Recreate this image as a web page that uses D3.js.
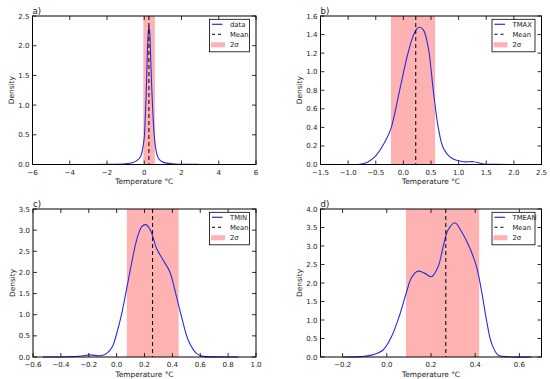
<!DOCTYPE html>
<html>
<head>
<meta charset="utf-8">
<script src="https://cdn.jsdelivr.net/npm/d3@7"></script>
<style>
  body { margin: 0; background: #fff; }
  svg { display: block; font-family: "DejaVu Sans", sans-serif; }
</style>
</head>
<body>
<svg id="chart" width="550" height="379"></svg>
<script>
// values
var panelLabels = ["a)", "b)", "c)", "d)"];
var seriesNames = ["data", "TMAX", "TMIN", "TMEAN"];

var aTemp    = [-5, -3, -2, -1, -0.6, -0.4, -0.2, -0.1, 0, 0.05, 0.1, 0.15, 0.2, 0.25, 0.3, 0.35, 0.4, 0.45, 0.5, 0.6, 0.7, 0.8, 1.0, 1.5, 2, 3, 5];
var aDensity = [0, 0.001, 0.003, 0.012, 0.035, 0.065, 0.13, 0.24, 0.45, 0.75, 1.15, 1.7, 2.15, 2.33, 2.2, 1.75, 1.3, 0.95, 0.65, 0.3, 0.15, 0.085, 0.04, 0.01, 0.004, 0.001, 0];

var bTemp    = [-1.45, -1.0, -0.79, -0.65, -0.514, -0.333, -0.224, -0.06, 0.09, 0.21, 0.284, 0.362, 0.453, 0.544, 0.634, 0.725, 0.877, 1.09, 1.27, 1.45, 1.7, 2.17];
var bDensity = [0, 0, 0.003, 0.025, 0.084, 0.246, 0.39, 0.82, 1.215, 1.43, 1.478, 1.45, 1.25, 0.785, 0.39, 0.175, 0.067, 0.03, 0.03, 0.005, 0.001, 0];

var cTemp    = [-0.528, -0.35, -0.25, -0.193, -0.12, -0.073, -0.03, 0.0, 0.035, 0.07, 0.107, 0.143, 0.179, 0.21, 0.243, 0.286, 0.334, 0.382, 0.43, 0.466, 0.514, 0.574, 0.621, 0.7, 0.873];
var cDensity = [0, 0.005, 0.025, 0.05, 0.03, 0.08, 0.25, 0.55, 1.0, 1.58, 2.21, 2.76, 3.08, 3.13, 3.0, 2.57, 2.29, 2.01, 1.42, 0.95, 0.395, 0.08, 0.015, 0.002, 0];

var dTemp    = [-0.198, -0.12, -0.069, -0.017, 0.021, 0.059, 0.089, 0.112, 0.142, 0.172, 0.202, 0.232, 0.255, 0.277, 0.308, 0.338, 0.376, 0.406, 0.428, 0.451, 0.474, 0.504, 0.55, 0.655];
var dDensity = [0, 0.01, 0.05, 0.19, 0.55, 1.15, 1.75, 2.15, 2.32, 2.26, 2.17, 2.44, 2.98, 3.43, 3.63, 3.39, 2.94, 2.44, 1.81, 1.0, 0.37, 0.05, 0.005, 0];

var means     = [0.25, 0.224, 0.258, 0.267];
var sigmaLow  = [-0.05, -0.224, 0.073, 0.087];
var sigmaHigh = [0.57, 0.574, 0.445, 0.418];

var xDomains = [[-6, 6], [-1.5, 2.5], [-0.6, 1.0], [-0.3, 0.7]];
var yDomains = [[0, 2.5], [0, 1.6], [0, 3.5], [0, 4.0]];
var xTicks = [
  [-6, -4, -2, 0, 2, 4, 6],
  [-1.5, -1.0, -0.5, 0.0, 0.5, 1.0, 1.5, 2.0, 2.5],
  [-0.6, -0.4, -0.2, 0.0, 0.2, 0.4, 0.6, 0.8, 1.0],
  [-0.2, 0.0, 0.2, 0.4, 0.6]
];
var yTicks = [
  [0, 0.5, 1.0, 1.5, 2.0, 2.5],
  [0, 0.2, 0.4, 0.6, 0.8, 1.0, 1.2, 1.4, 1.6],
  [0, 0.5, 1.0, 1.5, 2.0, 2.5, 3.0, 3.5],
  [0, 0.5, 1.0, 1.5, 2.0, 2.5, 3.0, 3.5, 4.0]
];
var xFormats = [d3.format("d"), d3.format(".1f"), d3.format(".1f"), d3.format(".1f")];

var temps = [aTemp, bTemp, cTemp, dTemp];
var dens  = [aDensity, bDensity, cDensity, dDensity];

// axes boxes in pixels
var boxes = [
  {x0: 32.5, x1: 256, y0: 16, y1: 164.5},
  {x0: 320.5, x1: 541.5, y0: 16, y1: 164.5},
  {x0: 33, x1: 256, y0: 209, y1: 357},
  {x0: 320.5, x1: 541.5, y0: 209, y1: 357}
];

var svg = d3.select("#chart");
var minus = function (s) { return s.replace("-", "\u2212"); };

for (var i = 0; i < 4; i++) drawPanel(i);

function drawPanel(i) {
  var b = boxes[i];
  var x = d3.scaleLinear().domain(xDomains[i]).range([b.x0, b.x1]);
  var y = d3.scaleLinear().domain(yDomains[i]).range([b.y1, b.y0]);
  var g = svg.append("g");

  // 2 sigma band
  g.append("rect")
    .attr("x", x(sigmaLow[i])).attr("y", b.y0)
    .attr("width", x(sigmaHigh[i]) - x(sigmaLow[i]))
    .attr("height", b.y1 - b.y0)
    .attr("fill", "#ff0000").attr("fill-opacity", 0.3);

  var pts = temps[i].map(function (t, k) { return [t, dens[i][k]]; });
  var line = d3.line()
    .x(function (d) { return x(d[0]); })
    .y(function (d) { return y(d[1]); })
    .curve(d3.curveCatmullRom.alpha(0.5));
  g.append("path").datum(pts)
    .attr("d", line)
    .attr("fill", "none").attr("stroke", "#2b2bdd").attr("stroke-width", 1.1);

  // mean line
  g.append("line")
    .attr("x1", x(means[i])).attr("x2", x(means[i]))
    .attr("y1", b.y0).attr("y2", b.y1)
    .attr("stroke", "#000").attr("stroke-width", 1)
    .attr("stroke-dasharray", "4,3");

  // ticks pointing inward, all four sides
  var tl = 4;
  xTicks[i].forEach(function (t) {
    var px = x(t);
    g.append("line").attr("x1", px).attr("x2", px).attr("y1", b.y1).attr("y2", b.y1 - tl).attr("stroke", "#000").attr("stroke-width", 0.8);
    g.append("line").attr("x1", px).attr("x2", px).attr("y1", b.y0).attr("y2", b.y0 + tl).attr("stroke", "#000").attr("stroke-width", 0.8);
    g.append("text").attr("x", px).attr("y", b.y1 + 10)
      .attr("text-anchor", "middle").attr("font-size", 7).attr("fill", "#222")
      .text(minus(xFormats[i](t)));
  });
  yTicks[i].forEach(function (t) {
    var py = y(t);
    g.append("line").attr("x1", b.x0).attr("x2", b.x0 + tl).attr("y1", py).attr("y2", py).attr("stroke", "#000").attr("stroke-width", 0.8);
    g.append("line").attr("x1", b.x1).attr("x2", b.x1 - tl).attr("y1", py).attr("y2", py).attr("stroke", "#000").attr("stroke-width", 0.8);
    g.append("text").attr("x", b.x0 - 3).attr("y", py + 2.5)
      .attr("text-anchor", "end").attr("font-size", 7).attr("fill", "#222")
      .text(d3.format(".1f")(t));
  });

  // frame
  g.append("rect")
    .attr("x", b.x0).attr("y", b.y0)
    .attr("width", b.x1 - b.x0).attr("height", b.y1 - b.y0)
    .attr("fill", "none").attr("stroke", "#000").attr("stroke-width", 1);

  // labels
  g.append("text").attr("x", (b.x0 + b.x1) / 2).attr("y", b.y1 + 19.5)
    .attr("text-anchor", "middle").attr("font-size", 7.4).attr("fill", "#222")
    .text("Temperature  \u00b0C");
  g.append("text")
    .attr("transform", "translate(" + (b.x0 - 18.5) + "," + ((b.y0 + b.y1) / 2) + ") rotate(-90)")
    .attr("text-anchor", "middle").attr("font-size", 7.4).attr("fill", "#222")
    .text("Density");
  g.append("text").attr("x", b.x0).attr("y", b.y0 - 2.5)
    .attr("font-size", 8.5).attr("fill", "#222")
    .text(panelLabels[i]);

  // legend
  var lw = i === 0 || i === 2 ? 40 : 43;
  var lx = b.x1 - 6.5 - lw, ly = b.y0 + 3.3;
  var lg = g.append("g");
  lg.append("rect").attr("x", lx).attr("y", ly).attr("width", lw).attr("height", 32.5)
    .attr("fill", "#fff").attr("stroke", "#000").attr("stroke-width", 0.8);
  lg.append("line").attr("x1", lx + 2.5).attr("x2", lx + 13).attr("y1", ly + 5).attr("y2", ly + 5)
    .attr("stroke", "#2b2bdd").attr("stroke-width", 1.2);
  lg.append("line").attr("x1", lx + 2.5).attr("x2", lx + 13).attr("y1", ly + 15).attr("y2", ly + 15)
    .attr("stroke", "#000").attr("stroke-width", 1.1).attr("stroke-dasharray", "3,3");
  lg.append("rect").attr("x", lx + 1.5).attr("y", ly + 23).attr("width", 14).attr("height", 5)
    .attr("fill", "#ff0000").attr("fill-opacity", 0.3);
  var names = [seriesNames[i], "Mean", "2\u03c3"];
  names.forEach(function (n, k) {
    lg.append("text").attr("x", lx + 20.5).attr("y", ly + 7.4 + k * 10.3)
      .attr("font-size", 6.8).attr("fill", "#222").text(n);
  });
}
</script>
</body>
</html>
